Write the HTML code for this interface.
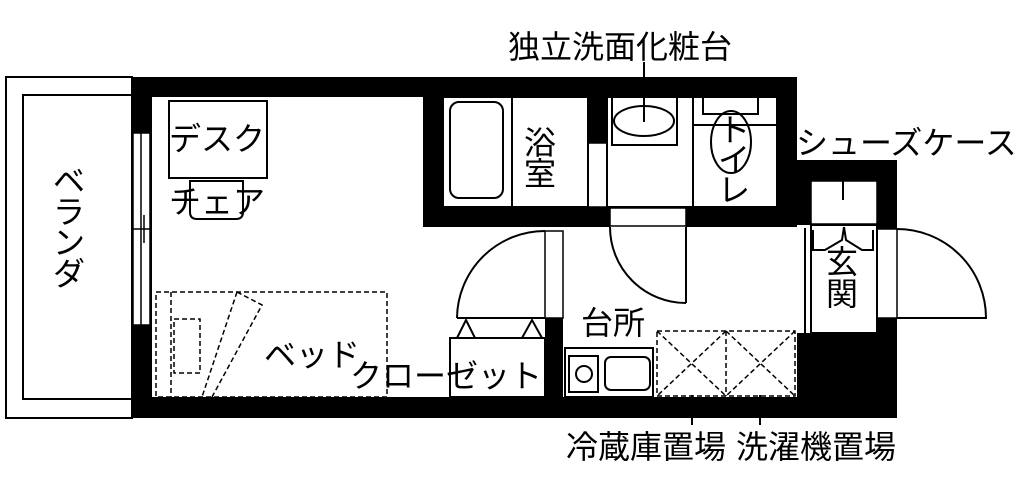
<!DOCTYPE html>
<html><head><meta charset="utf-8"><style>
html,body{margin:0;padding:0;background:#fff;width:1024px;height:486px;overflow:hidden}
text{font-family:"Liberation Sans","Noto Sans CJK JP",sans-serif;fill:#000}
</style></head><body>
<svg width="1024" height="486" viewBox="0 0 1024 486" xmlns="http://www.w3.org/2000/svg">
<g fill="none" stroke="#000" stroke-width="2">
<rect x="6" y="77" width="126" height="341"/>
<rect x="23" y="95" width="109" height="304"/>
</g>
<g fill="#000">
<rect x="131" y="77" width="666" height="20"/>
<rect x="131" y="77" width="21" height="341"/>
<rect x="131" y="397" width="766" height="21"/>
<rect x="423" y="77" width="20" height="150"/>
<rect x="423" y="207" width="187" height="20"/>
<rect x="686" y="207" width="111" height="20"/>
<rect x="588" y="77" width="19" height="66"/>
<rect x="777" y="77" width="20" height="150"/>
<rect x="777" y="160" width="120" height="22"/>
<rect x="777" y="160" width="34" height="65"/>
<rect x="877" y="160" width="20" height="69"/>
<rect x="877" y="318" width="20" height="100"/>
<rect x="797" y="333" width="100" height="85"/>
<rect x="545" y="318" width="18" height="80"/>
</g>
<g fill="#fff" stroke="#000" stroke-width="1.5">
<rect x="133" y="133" width="17" height="192"/>
<line x1="141" y1="133" x2="141" y2="325"/>
<line x1="133" y1="229" x2="150" y2="229"/>
<line x1="144" y1="215" x2="144" y2="243"/>
<rect x="811" y="181" width="66" height="43"/>
<rect x="610" y="208" width="76" height="18"/>
<rect x="588" y="143" width="19" height="64"/>
<rect x="545" y="231" width="18" height="87"/>
<rect x="877" y="229" width="20" height="89"/>
</g>
<g fill="none" stroke="#000" stroke-width="2">
<rect x="169" y="101" width="98" height="77"/>
<path d="M190 181 H243 V212 Q243 219 236 219 H197 Q190 219 190 212 Z"/>
<rect x="443" y="97" width="69" height="110"/>
<rect x="450" y="102" width="53" height="96" rx="9"/>
<rect x="512" y="97" width="76" height="110"/>
<rect x="607" y="97" width="86" height="110"/>
<rect x="612" y="97" width="65" height="48"/>
<ellipse cx="644" cy="121" rx="30" ry="15"/>
<line x1="644" y1="62" x2="644" y2="122"/>
<rect x="693" y="97" width="84" height="110"/>
<rect x="703" y="97" width="55" height="17"/>
<line x1="693" y1="125" x2="777" y2="125"/>
<ellipse cx="731" cy="142" rx="20" ry="31"/>
<path d="M457 318 A88 88 0 0 1 545 231"/>
<line x1="457" y1="318" x2="545" y2="318"/>
<rect x="450" y="338" width="95" height="59"/>
<path d="M457 338 L466 320 L475 338 M522 338 L532 320 L542 338"/>
<path d="M610 227 A76 76 0 0 0 686 303"/>
<line x1="686" y1="227" x2="686" y2="303"/>
<rect x="565" y="348" width="88" height="49"/>
<rect x="569" y="356" width="29" height="36"/>
<circle cx="584" cy="374" r="8"/>
<rect x="605" y="357" width="45" height="33" rx="6"/>
<rect x="811" y="225" width="66" height="108"/>
<line x1="805" y1="228" x2="805" y2="333"/>
<path d="M813 230 V250 H825 L842 240 L844 227 M844 227 L846 240 L862 250 H873 V230"/>
<line x1="843" y1="160" x2="843" y2="200"/>
<path d="M897 229 A89 89 0 0 1 986 318 H897"/>
<line x1="692" y1="395" x2="692" y2="425"/>
<line x1="760" y1="395" x2="760" y2="425"/>
</g>
<g fill="none" stroke="#000" stroke-width="1.5" stroke-dasharray="5,3">
<rect x="156" y="292" width="231" height="105"/>
<line x1="171" y1="292" x2="171" y2="397"/>
<rect x="174" y="319" width="26" height="54"/>
<path d="M237 292 L262 305 L212 397 M237 292 L202 397"/>
<rect x="657" y="331" width="138" height="65"/>
<line x1="726" y1="331" x2="726" y2="396"/>
<path d="M657 331 L726 396 M726 331 L657 396 M726 331 L795 396 M795 331 L726 396"/>
</g>
<g font-size="32">
<text x="508" y="58">独立洗面化粧台</text>
<text x="796" y="154">シューズケース</text>
<text x="169" y="150">デスク</text>
<text x="169" y="213">チェア</text>
<text x="264" y="366">ベッド</text>
<text x="350" y="387">クローゼット</text>
<text x="581" y="334">台所</text>
<text x="524" y="154">浴</text>
<text x="524" y="185">室</text>
<text x="826" y="273">玄</text>
<text x="826" y="305">関</text>
<text x="718" y="141">ト</text>
<text x="718" y="171">イ</text>
<text x="718" y="201">レ</text>
<text x="53" y="192">ベ</text>
<text x="53" y="223">ラ</text>
<text x="53" y="254">ン</text>
<text x="53" y="285">ダ</text>
<text x="566" y="458">冷蔵庫置場</text>
<text x="736" y="458">洗濯機置場</text>
</g>
</svg>
</body></html>
